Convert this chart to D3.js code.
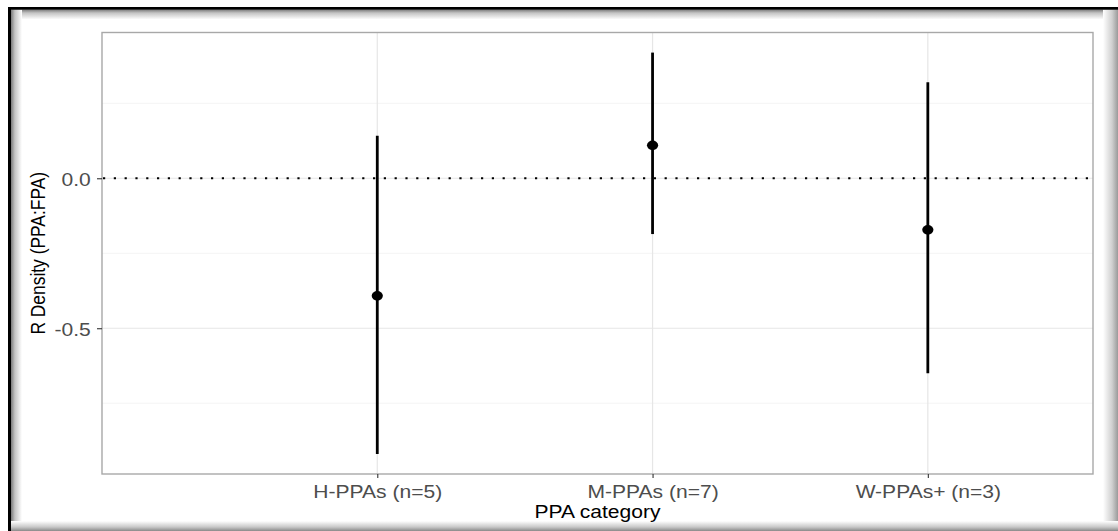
<!DOCTYPE html>
<html>
<head>
<meta charset="utf-8">
<script src="https://cdn.jsdelivr.net/npm/d3@7/dist/d3.min.js"></script>
<style>
  html, body { margin: 0; padding: 0; background: #ffffff; }
  svg { display: block; }
  text { font-family: "Liberation Sans", Arial, Helvetica, sans-serif; }
</style>
</head>
<body>
<svg id="chart" width="1118" height="531"></svg>
<script>
// ---- data ----
const categories = ["H-PPAs (n=5)", "M-PPAs (n=7)", "W-PPAs+ (n=3)"];
const categoryPos = [1, 2, 3];
const estimates = [-0.392, 0.110, -0.172];
const lowerCI = [-0.919, -0.186, -0.650];
const upperCI = [0.142, 0.419, 0.320];
const yTicks = [0.0, -0.5];
const yTickLabels = ["0.0", "-0.5"];
const yMinorTicks = [0.25, -0.25, -0.75];
const yLimits = [-0.986, 0.486];
const xLimits = [0, 3.6];
const refValue = 0;
const xTitle = "PPA category";
const yTitle = "R Density (PPA:FPA)";

// ---- layout ----
const W = 1118, H = 531;
const panel = { left: 102, right: 1093, top: 32.5, bottom: 474 };
const stretch = 1.15;

const svg = d3.select("#chart");

// ---- frame with shadow ----
const defs = svg.append("defs");
function grad(id, x1, y1, x2, y2, stops) {
  const g = defs.append("linearGradient").attr("id", id)
    .attr("x1", x1).attr("y1", y1).attr("x2", x2).attr("y2", y2);
  stops.forEach(s => g.append("stop").attr("offset", s[0]).attr("stop-color", s[1]));
}
grad("gTop", 0, 0, 0, 1, [[0, "#7a7a7a"], [0.35, "#c4c4c4"], [1, "#ffffff"]]);
grad("gLeft", 0, 0, 1, 0, [[0, "#7a7a7a"], [0.35, "#c4c4c4"], [1, "#ffffff"]]);
grad("gRight", 0, 0, 1, 0, [[0, "#ffffff"], [0.6, "#d0d0d0"], [1, "#9a9a9a"]]);
grad("gBottom", 0, 0, 0, 1, [[0, "#ffffff"], [0.6, "#c8c8c8"], [1, "#8a8a8a"]]);

svg.append("rect").attr("x", 0).attr("y", 0).attr("width", W).attr("height", H).attr("fill", "#ffffff");
svg.append("rect").attr("x", 11).attr("y", 9.5).attr("width", W - 11).attr("height", 10).attr("fill", "url(#gTop)");
svg.append("rect").attr("x", 11).attr("y", 9.5).attr("width", 11).attr("height", H - 9.5).attr("fill", "url(#gLeft)");
svg.append("rect").attr("x", 1103).attr("y", 9.5).attr("width", 15).attr("height", H - 9.5).attr("fill", "url(#gRight)");
svg.append("rect").attr("x", 11).attr("y", 521).attr("width", W - 11).attr("height", 10).attr("fill", "url(#gBottom)");
svg.append("rect").attr("x", 8).attr("y", 7).attr("width", W - 8).attr("height", 2.7).attr("fill", "#000");
svg.append("rect").attr("x", 8).attr("y", 7).attr("width", 3).attr("height", H - 7).attr("fill", "#000");

// ---- scales ----
const x = d3.scaleLinear().domain(xLimits).range([panel.left, panel.right]);
const y = d3.scaleLinear().domain(yLimits).range([panel.bottom, panel.top]);

// ---- grid ----
const grid = svg.append("g");
grid.selectAll(".minor").data(yMinorTicks).join("line")
  .attr("x1", panel.left).attr("x2", panel.right)
  .attr("y1", d => y(d)).attr("y2", d => y(d))
  .attr("stroke", "#f4f4f4").attr("stroke-width", 1);
grid.selectAll(".majorY").data(yTicks).join("line")
  .attr("x1", panel.left).attr("x2", panel.right)
  .attr("y1", d => y(d)).attr("y2", d => y(d))
  .attr("stroke", "#e6e6e6").attr("stroke-width", 1.2);
grid.selectAll(".majorX").data(categoryPos).join("line")
  .attr("x1", d => x(d)).attr("x2", d => x(d))
  .attr("y1", panel.top).attr("y2", panel.bottom)
  .attr("stroke", "#e6e6e6").attr("stroke-width", 1.2);

// ---- reference line ----
svg.append("line")
  .attr("x1", panel.left + 1).attr("x2", panel.right)
  .attr("y1", y(refValue)).attr("y2", y(refValue))
  .attr("stroke", "#000").attr("stroke-width", 2.2)
  .attr("stroke-dasharray", "2.2 8.6");

// ---- error bars ----
const idx = d3.range(categories.length);
svg.append("g").selectAll("line").data(idx).join("line")
  .attr("x1", i => x(categoryPos[i])).attr("x2", i => x(categoryPos[i]))
  .attr("y1", i => y(lowerCI[i])).attr("y2", i => y(upperCI[i]))
  .attr("stroke", "#000").attr("stroke-width", 2.8);

svg.append("g").selectAll("ellipse").data(idx).join("ellipse")
  .attr("cx", i => x(categoryPos[i])).attr("cy", i => y(estimates[i]))
  .attr("rx", 5.6).attr("ry", 4.8).attr("fill", "#000");

// ---- panel border ----
svg.append("rect")
  .attr("x", panel.left).attr("y", panel.top)
  .attr("width", panel.right - panel.left).attr("height", panel.bottom - panel.top)
  .attr("fill", "none").attr("stroke", "#a8a8a8").attr("stroke-width", 1.4);

// ---- axes ----
const xAxis = d3.axisBottom(x).tickValues(categoryPos)
  .tickFormat((d, i) => categories[i]).tickSize(4).tickPadding(7.4);
const gx = svg.append("g").attr("transform", `translate(0,${panel.bottom})`).call(xAxis);
gx.select(".domain").remove();
gx.selectAll(".tick line").attr("stroke", "#333333").attr("stroke-width", 1.1);
gx.selectAll(".tick text")
  .attr("fill", "#4d4d4d").attr("font-size", 18.3)
  .style("font-family", '"Liberation Sans", Arial, sans-serif')
  .attr("transform", `scale(${stretch},1)`);

const yAxis = d3.axisLeft(y).tickValues(yTicks)
  .tickFormat((d, i) => yTickLabels[i]).tickSize(5).tickPadding(4.8);
const gy = svg.append("g").attr("transform", `translate(${panel.left},0)`).call(yAxis);
gy.select(".domain").remove();
gy.selectAll(".tick line").attr("stroke", "#333333").attr("stroke-width", 1.1);
gy.selectAll(".tick text")
  .attr("fill", "#4d4d4d").attr("font-size", 18.3).attr("dy", "0.37em")
  .style("font-family", '"Liberation Sans", Arial, sans-serif')
  .attr("transform", `scale(${stretch},1)`);

// ---- titles ----
svg.append("text")
  .attr("transform", `translate(${(panel.left + panel.right) / 2},518) scale(${stretch},1)`)
  .attr("text-anchor", "middle").attr("font-size", 18.3).attr("fill", "#000")
  .text(xTitle);

svg.append("text")
  .attr("transform", `translate(45,${(panel.top + panel.bottom) / 2}) scale(${stretch},1) rotate(-90)`)
  .attr("text-anchor", "middle").attr("font-size", 17.4).attr("fill", "#000")
  .text(yTitle);
</script>
</body>
</html>
